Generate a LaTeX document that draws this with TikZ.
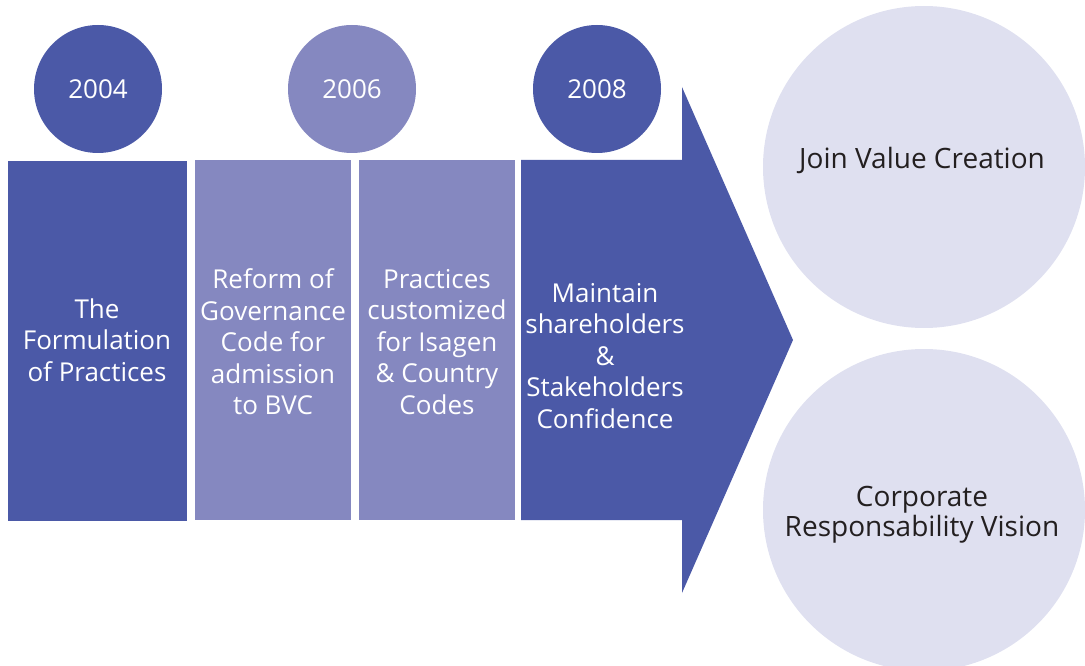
\documentclass[tikz,border=0pt]{standalone}
\usepackage{fontspec}
\setmainfont{Open Sans}
\definecolor{darkb}{HTML}{4B59A7}
\definecolor{lightb}{HTML}{8588C0}
\definecolor{pale}{HTML}{DFE0F0}
\definecolor{ink}{HTML}{231F20}
\begin{document}
\begin{tikzpicture}[x=1pt,y=-1pt,
  year/.style={circle,minimum size=128pt,inner sep=0pt,text=white,font=\fontsize{26}{30}\selectfont},
  boxtext/.style={align=center,text=white,inner sep=0pt,font=\fontsize{26}{31.5}\selectfont},
  goal/.style={circle,fill=pale,minimum size=322pt,inner sep=0pt},
  goaltext/.style={align=center,text=ink,inner sep=0pt,font=\fontsize{28}{30}\selectfont}]
\useasboundingbox (0,0) rectangle (1085,666);
% circles on the right
\node[goal] (g1) at (924,167) {};
\node[goal] (g2) at (924,510) {};
\node[goaltext] (t1) at (922,160) {Join Value Creation};
\node[goaltext] (t2) at (922,515) {Corporate\\Responsability Vision};
% year circles
\node[year,fill=darkb] (y1) at (98,89) {2004};
\node[year,fill=lightb] (y2) at (352,89) {2006};
\node[year,fill=darkb] (y3) at (597,89) {2008};
% boxes
\fill[darkb] (8,161) rectangle (187,521);
\fill[lightb] (195,160) rectangle (351,520);
\fill[lightb] (359,160) rectangle (515,520);
\coordinate (a1) at (521,160);
\coordinate (a2) at (682,160);
\coordinate (a3) at (682,87);
\coordinate (tip) at (793,340);
\coordinate (a5) at (682,593);
\coordinate (a6) at (682,520);
\coordinate (a7) at (521,520);
\fill[darkb] (a1) -- (a2) -- (a3) -- (tip) -- (a5) -- (a6) -- (a7) -- cycle;
\node[boxtext] (b1) at (97,340) {The\\Formulation\\of Practices};
\node[boxtext] (b2) at (273,342) {Reform of\\Governance\\Code for\\admission\\to BVC};
\node[boxtext] (b3) at (437,342) {Practices\\customized\\for Isagen\\\& Country\\Codes};
\node[boxtext] (b4) at (605,356) {Maintain\\shareholders\\\&\\Stakeholders\\Confidence};
\end{tikzpicture}
\end{document}
